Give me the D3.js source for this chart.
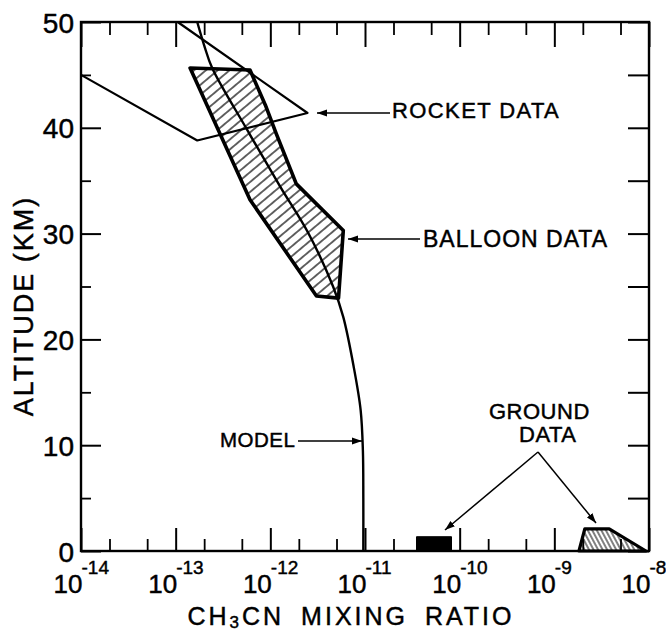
<!DOCTYPE html>
<html><head><meta charset="utf-8">
<script src="https://cdn.jsdelivr.net/npm/d3@7/dist/d3.min.js"></script>
<style>body{margin:0;background:#fff}svg{display:block}text{stroke:#000;stroke-width:0.45px}</style>
</head><body><svg id="c" width="666" height="632"></svg>
<script>
// ---------- data ----------
const majorTicksX = [1e-14,1e-13,1e-12,1e-11,1e-10,1e-9,1e-8];
const xTickExponents = ["-14","-13","-12","-11","-10","-9","-8"];
const minorTicksX = [2e-14,5e-14,2e-13,5e-13,2e-12,5e-12,2e-11,5e-11,2e-10,5e-10,2e-9,5e-9];
const altTicksMajor = [0,10,20,30,40,50];
const altTicksMinor = [5,15,25,35,45];

const modelRatio = [1.69e-13,2.0e-13,2.43e-13,5.7e-13,1.28e-12,2.5e-12,4.6e-12,5.9e-12,7.6e-12,9.0e-12,9.5e-12,9.6e-12,9.6e-12];
const modelAlt   = [50,47.8,45.65,39.8,34.4,30.1,25.0,22.1,17.4,13.3,9.5,5,0];

const rocketRatio = [1e-14,1.69e-13,2.47e-12,1.05e-13];
const rocketAlt   = [45.0,38.8,41.4,50];

const balloonRatio = [1.42e-13,6.1e-13,8.85e-13,1.16e-12,1.88e-12,5.9e-12,5.25e-12,3.07e-12,6.1e-13];
const balloonAlt   = [45.65,45.46,42.16,39.4,34.7,30.3,23.9,24.1,33.2];

const groundSolidRatio = [3.5e-11,3.5e-11,8.2e-11,8.2e-11];
const groundSolidAlt   = [0,1.35,1.35,0];
const groundHatchRatio = [1.82e-9,2.1e-9,3.8e-9,9.3e-9];
const groundHatchAlt   = [0,2.1,2.1,0];

// ---------- setup ----------
const svg = d3.select("#c");
const L = 81, R = 649, T = 22, B = 551;
const x = d3.scaleLog().domain([1e-14,1e-8]).range([L,R]);
const y = d3.scaleLinear().domain([0,50]).range([B,T]);
const FONT = "'Liberation Sans', Arial, sans-serif";

const defs = svg.append("defs");
const p1 = defs.append("pattern").attr("id","hatchB").attr("patternUnits","userSpaceOnUse")
  .attr("width",10).attr("height",7.6).attr("patternTransform","rotate(-40)");
p1.append("line").attr("x1",0).attr("x2",10).attr("y1",3.8).attr("y2",3.8).attr("stroke","#000").attr("stroke-width",1.2);
const p2 = defs.append("pattern").attr("id","hatchG").attr("patternUnits","userSpaceOnUse")
  .attr("width",10).attr("height",4).attr("patternTransform","rotate(62)");
p2.append("line").attr("x1",0).attr("x2",10).attr("y1",2).attr("y2",2).attr("stroke","#000").attr("stroke-width",1);
const ah = defs.append("marker").attr("id","arr").attr("viewBox","0 0 10 10").attr("refX",10).attr("refY",5)
  .attr("markerWidth",10).attr("markerHeight",10).attr("markerUnits","userSpaceOnUse").attr("orient","auto");
ah.append("path").attr("d","M0,1.5 L10,5 L0,8.5 Z").attr("fill","#000");

// ---------- axes ----------
function styleAxis(g, w){ g.select(".domain").remove(); g.selectAll(".tick line").attr("stroke","#000").attr("stroke-width",w); }
svg.append("g").attr("transform",`translate(0,${B})`)
  .call(d3.axisBottom(x).tickValues(majorTicksX).tickSize(-23).tickFormat("")).call(g=>styleAxis(g,2));
svg.append("g").attr("transform",`translate(0,${B})`)
  .call(d3.axisBottom(x).tickValues(minorTicksX).tickSize(-12).tickFormat("")).call(g=>styleAxis(g,1.8));
svg.append("g").attr("transform",`translate(0,${T})`)
  .call(d3.axisTop(x).tickValues(majorTicksX).tickSize(-25).tickFormat("")).call(g=>styleAxis(g,2));
svg.append("g").attr("transform",`translate(0,${T})`)
  .call(d3.axisTop(x).tickValues(minorTicksX).tickSize(-13).tickFormat("")).call(g=>styleAxis(g,1.8));
const yl = svg.append("g").attr("transform",`translate(${L},0)`)
  .call(d3.axisLeft(y).tickValues(altTicksMajor).tickSize(-20).tickPadding(7).tickFormat(d3.format("d")));
styleAxis(yl,2);
yl.selectAll("text").attr("font-family",FONT).attr("font-size",28).attr("fill","#000").attr("dy","0.36em");
svg.append("g").attr("transform",`translate(${L},0)`)
  .call(d3.axisLeft(y).tickValues(altTicksMinor).tickSize(-10).tickFormat("")).call(g=>styleAxis(g,1.8));
svg.append("g").attr("transform",`translate(${R},0)`)
  .call(d3.axisRight(y).tickValues(altTicksMajor.concat(altTicksMinor)).tickSize(-21).tickFormat("")).call(g=>styleAxis(g,2));

// frame
svg.append("rect").attr("x",L).attr("y",T).attr("width",R-L).attr("height",B-T)
  .attr("fill","none").attr("stroke","#000").attr("stroke-width",2.4);

// x tick labels
majorTicksX.forEach((v,i)=>{
  svg.append("text").attr("x",x(v)+1.5).attr("y",593).attr("text-anchor","end")
    .attr("font-family",FONT).attr("font-size",26).text("10");
  svg.append("text").attr("x",x(v)+0.5).attr("y",574).attr("text-anchor","start")
    .attr("font-family",FONT).attr("font-size",19).text(xTickExponents[i]);
});

// axis titles
const xt = svg.append("text").attr("x",351).attr("y",625).attr("text-anchor","middle")
  .attr("font-family",FONT).attr("font-size",25).attr("letter-spacing",3).attr("word-spacing",7);
xt.append("tspan").text("CH");
xt.append("tspan").attr("font-size",17).attr("dy",3).text("3");
xt.append("tspan").attr("dy",-3).text("CN MIXING RATIO");
svg.append("text").attr("transform","translate(33,306) rotate(-90)").attr("text-anchor","middle")
  .attr("font-family",FONT).attr("font-size",27).attr("letter-spacing",2).text("ALTITUDE (KM)");

// ---------- marks ----------
const pts = (xs,ys)=>xs.map((v,i)=>[x(v),y(ys[i])]);
svg.append("path").attr("d", d3.line()(pts(balloonRatio,balloonAlt))+"Z")
  .attr("fill","url(#hatchB)").attr("stroke","#000").attr("stroke-width",3.6).attr("stroke-linejoin","round");
svg.append("path").attr("d", d3.line()(pts(rocketRatio,rocketAlt)))
  .attr("fill","none").attr("stroke","#000").attr("stroke-width",2.2).attr("stroke-linejoin","round");
svg.append("path").attr("d", d3.line().curve(d3.curveCatmullRom.alpha(0.5))(pts(modelRatio,modelAlt)))
  .attr("fill","none").attr("stroke","#000").attr("stroke-width",2.4);
svg.append("path").attr("d", d3.line()(pts(groundSolidRatio,groundSolidAlt))+"Z")
  .attr("fill","#000").attr("stroke","#000").attr("stroke-width",1);
svg.append("path").attr("d", d3.line()(pts(groundHatchRatio,groundHatchAlt))+"Z")
  .attr("fill","url(#hatchG)").attr("stroke","#000").attr("stroke-width",3.2).attr("stroke-linejoin","round");

// ---------- annotations ----------
function label(t,xx,yy,fs,ls){ return svg.append("text").attr("x",xx).attr("y",yy).attr("font-family",FONT)
  .attr("font-size",fs).attr("letter-spacing",ls||0).text(t); }
function arrow(x1,y1,x2,y2,w){ svg.append("line").attr("x1",x1).attr("y1",y1).attr("x2",x2).attr("y2",y2)
  .attr("stroke","#000").attr("stroke-width",w||1.5).attr("marker-end","url(#arr)"); }
label("ROCKET DATA",392,118,22,1.4);
arrow(390,113,317,113);
label("BALLOON DATA",423,247,23,1);
arrow(420,239,348,239);
label("MODEL",220,447,20.5,0.5);
arrow(298,441,362,441);
label("GROUND",489,419,22,0.5);
label("DATA",519,442,22,0.5);
arrow(538,452,445,530);
arrow(538,452,596,523);
</script></body></html>
